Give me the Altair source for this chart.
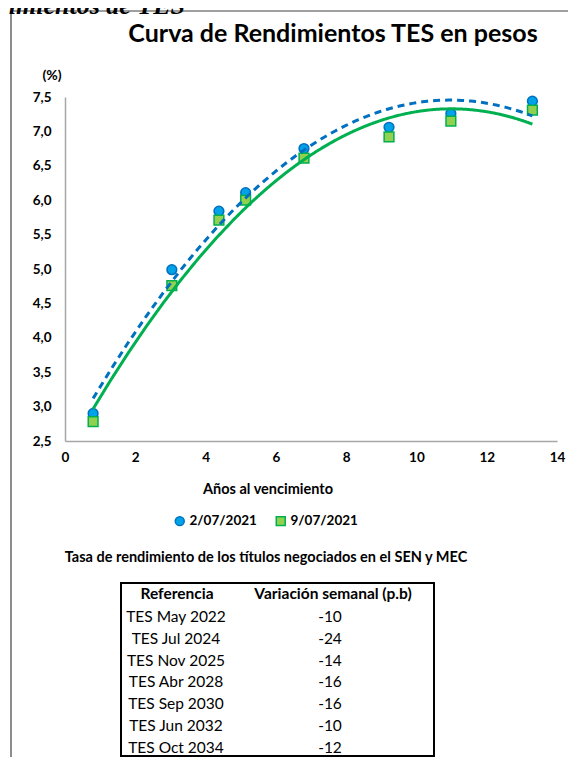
import altair as alt
import pandas as pd

# ---- data ----
anos = [0.80, 3.04, 4.38, 5.14, 6.80, 9.22, 10.98, 13.30]
rend_0207 = [2.90, 4.99, 5.84, 6.11, 6.75, 7.06, 7.26, 7.44]
rend_0907 = [2.78, 4.76, 5.71, 6.00, 6.61, 6.92, 7.15, 7.31]
fechas = ["2/07/2021", "9/07/2021"]

referencias = ["TES May 2022", "TES Jul 2024", "TES Nov 2025", "TES Abr 2028",
               "TES Sep 2030", "TES Jun 2032", "TES Oct 2034"]
variacion = ["-10", "-24", "-14", "-16", "-16", "-10", "-12"]

x_ticks = [0, 2, 4, 6, 8, 10, 12, 14]
y_ticks = [2.5, 3, 3.5, 4, 4.5, 5, 5.5, 6, 6.5, 7, 7.5]

FONT = "Lato"
BLUE_LINE = "#0070C0"
BLUE_FILL = "#00A2E8"
GREEN_LINE = "#00B050"
GREEN_FILL = "#92D050"

df = pd.DataFrame({
    "anos": anos * 2,
    "rend": rend_0207 + rend_0907,
    "fecha": [fechas[0]] * len(anos) + [fechas[1]] * len(anos),
})
tabla = pd.DataFrame({"ref": referencias, "var": variacion, "fila": list(range(len(referencias)))})

W, H = 492, 344

xscale = alt.Scale(domain=[0, 14], nice=False, zero=False)
yscale = alt.Scale(domain=[2.5, 7.5], nice=False, zero=False)

xaxis = alt.Axis(
    values=x_ticks, title=None, grid=False, ticks=False, labelPadding=9,
    labelOverlap=False, labelFlush=False,
    labelFontSize=13.5, labelFontWeight="bold", labelFont=FONT, labelColor="black",
    domainColor="#A6A6A6", domainWidth=1.5)
yaxis = alt.Axis(
    values=y_ticks, title=None, grid=False, ticks=False, labelPadding=14,
    labelOverlap=False, labelFlush=False,
    labelExpr="replace(format(datum.value, '.1f'), '.', ',')",
    labelFontSize=13.5, labelFontWeight="bold", labelFont=FONT, labelColor="black",
    domainColor="#A6A6A6", domainWidth=1.5)

X = alt.X("anos:Q", scale=xscale, axis=xaxis)
Y = alt.Y("rend:Q", scale=yscale, axis=yaxis)

base = alt.Chart(df)

points = base.mark_point(filled=True, opacity=1, strokeWidth=1.5).encode(
    x=X, y=Y,
    color=alt.Color("fecha:N", scale=alt.Scale(domain=fechas, range=[BLUE_FILL, GREEN_FILL]),
                    legend=alt.Legend(title=None, orient="none", direction="horizontal",
                                      legendX=108, legendY=417, labelFontSize=13.5,
                                      labelFontWeight="bold", labelFont=FONT, labelColor="black",
                                      columnPadding=16, symbolSize=80, labelOffset=3)),
    stroke=alt.Stroke("fecha:N", scale=alt.Scale(domain=fechas, range=[BLUE_LINE, GREEN_LINE]),
                      legend=None),
    shape=alt.Shape("fecha:N", scale=alt.Scale(domain=fechas, range=["circle", "square"]),
                    legend=None),
    size=alt.value(95),
)

def trend(fecha, color, dash):
    return base.transform_filter(alt.datum.fecha == fecha).transform_regression(
        "anos", "rend", method="poly", order=2, extent=[0.8, 13.3]
    ).mark_line(color=color, strokeWidth=3, strokeDash=dash).encode(x=X, y=Y)

trend_b = trend(fechas[0], BLUE_LINE, [7, 5])
trend_g = trend(fechas[1], GREEN_LINE, [1, 0])

def label(text, x, y, size=13, weight="bold", align="center", font=FONT, style="normal"):
    return alt.Chart(pd.DataFrame({"t": [text]})).mark_text(
        fontSize=size, fontWeight=weight, align=align, baseline="middle", font=font,
        color="black", fontStyle=style
    ).encode(x=alt.value(x), y=alt.value(y), text="t:N")

titulo = label("Curva de Rendimientos TES en pesos", 268, -63, size=25)
pct = label("(%)", -13, -21, size=14)
xtitulo = label("Años al vencimiento", 203, 393, size=14.5)
subtitulo = label("Tasa de rendimiento de los títulos negociados en el SEN y MEC", 201, 461, size=14.5)
cortado = alt.Chart(pd.DataFrame({"t": ["Curva de Rendimientos de TES"]})).mark_text(
    fontSize=26, fontWeight="bold", fontStyle="italic", align="right", baseline="alphabetic",
    font="Liberation Serif", color="black"
).encode(x=alt.value(120), y=alt.value(-83), text="t:N")

# frame of the figure
frame = alt.Chart(pd.DataFrame({"a": [0]})).mark_rule(color="#404040", strokeWidth=1.2).encode(
    x=alt.value(-54), x2=alt.value(-54), y=alt.value(-86), y2=alt.value(670))
frame_top = alt.Chart(pd.DataFrame({"a": [0]})).mark_rule(color="#404040", strokeWidth=1.2).encode(
    x=alt.value(-54), x2=alt.value(503), y=alt.value(-86), y2=alt.value(-86))

# table
caja = alt.Chart(pd.DataFrame({"a": [0]})).mark_rect(
    fill="white", stroke="black", strokeWidth=2).encode(
    x=alt.value(56), x2=alt.value(369), y=alt.value(486), y2=alt.value(659))
enc1 = label("Referencia", 112, 497, size=15.5)
enc2 = label("Variación semanal (p.b)", 268, 497, size=15.5)
tabla_base = alt.Chart(tabla).transform_calculate(py="520 + 21.8 * datum.fila")
col_ref = tabla_base.mark_text(fontSize=15.5, font=FONT, color="black", baseline="middle").encode(
    x=alt.value(111), y=alt.Y("py:Q", scale=None, axis=None), text="ref:N")
col_var = tabla_base.mark_text(fontSize=15.5, font=FONT, color="black", baseline="middle").encode(
    x=alt.value(265), y=alt.Y("py:Q", scale=None, axis=None), text="var:N")

chart = alt.layer(
    frame, frame_top, cortado, points, trend_b, trend_g, titulo, pct, xtitulo, subtitulo,
    caja, enc1, enc2, col_ref, col_var
).properties(
    width=W, height=H,
    autosize=alt.AutoSizeParams(type="none"),
    padding={"left": 57, "top": 89, "right": 11, "bottom": 316},
    background="white",
).configure_view(stroke=None).configure_axis(labelOverlap=False)

chart.save("out.html", embed_options={"renderer": "svg", "actions": False})
